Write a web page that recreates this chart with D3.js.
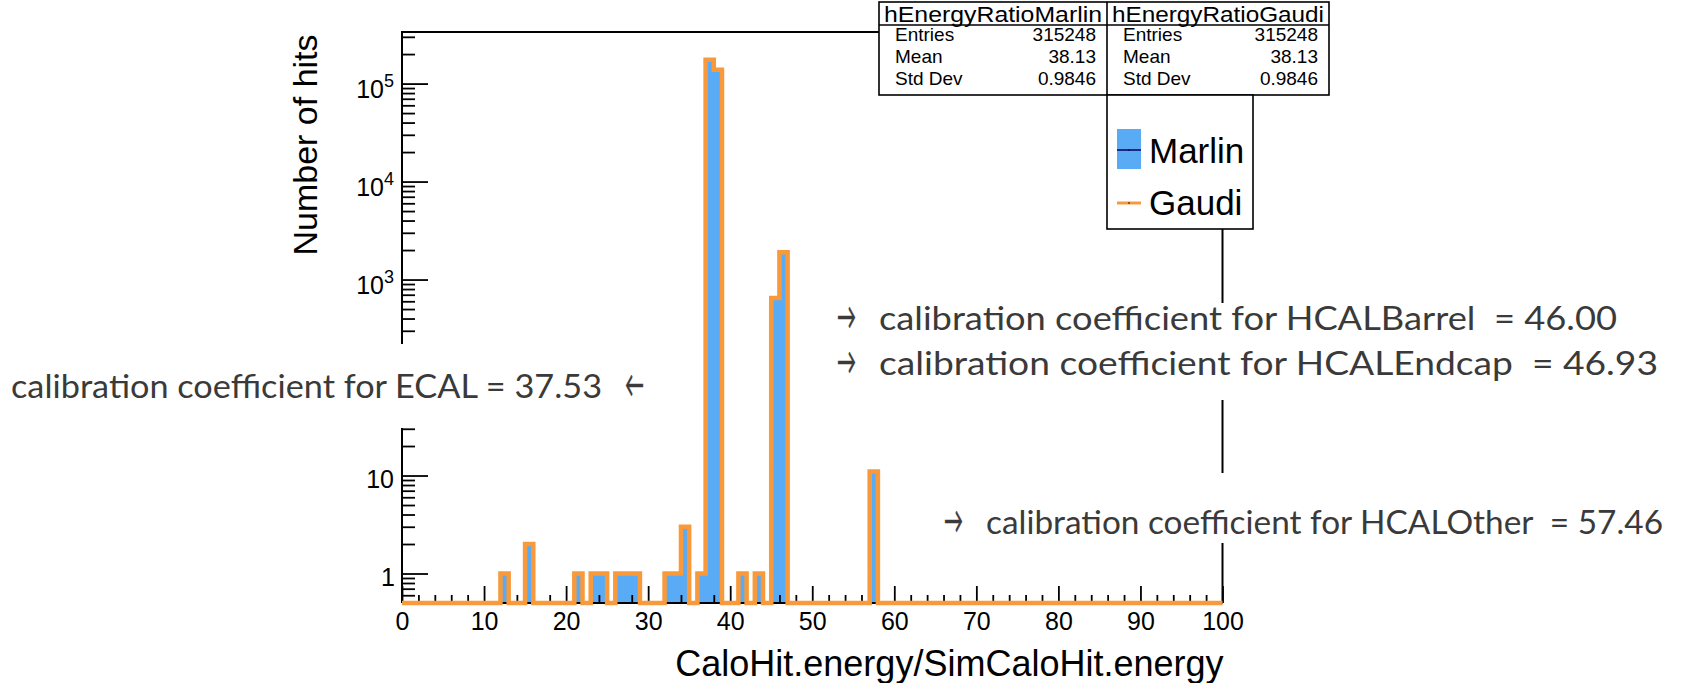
<!DOCTYPE html>
<html>
<head>
<meta charset="utf-8">
<script src="https://cdn.jsdelivr.net/npm/d3@7"></script>
<style>
    body { margin: 0; background: #fff; }
    svg text { font-family: "Liberation Sans", Arial, sans-serif; fill: #000; }
    svg text.note { font-family: Lato, "Noto Sans", sans-serif; fill: #3a3a3a; white-space: pre; }
</style>
</head>
<body>
<svg id="plot" width="1685" height="683"></svg>
<script>
// histogram: 100 bins of width 1 from 0 to 100
const binLow = [
    0, 1, 2, 3, 4, 5, 6, 7, 8, 9,
    10, 11, 12, 13, 14, 15, 16, 17, 18, 19,
    20, 21, 22, 23, 24, 25, 26, 27, 28, 29,
    30, 31, 32, 33, 34, 35, 36, 37, 38, 39,
    40, 41, 42, 43, 44, 45, 46, 47, 48, 49,
    50, 51, 52, 53, 54, 55, 56, 57, 58, 59,
    60, 61, 62, 63, 64, 65, 66, 67, 68, 69,
    70, 71, 72, 73, 74, 75, 76, 77, 78, 79,
    80, 81, 82, 83, 84, 85, 86, 87, 88, 89,
    90, 91, 92, 93, 94, 95, 96, 97, 98, 99
]
const marlinCounts = [
    0, 0, 0, 0, 0, 0, 0, 0, 0, 0,
    0, 0, 1, 0, 0, 2, 0, 0, 0, 0,
    0, 1, 0, 1, 1, 0, 1, 1, 1, 0,
    0, 0, 1, 1, 3, 0, 1, 174620, 138050, 0,
    0, 1, 0, 1, 0, 650, 1900, 0, 0, 0,
    0, 0, 0, 0, 0, 0, 0, 11, 0, 0,
    0, 0, 0, 0, 0, 0, 0, 0, 0, 0,
    0, 0, 0, 0, 0, 0, 0, 0, 0, 0,
    0, 0, 0, 0, 0, 0, 0, 0, 0, 0,
    0, 0, 0, 0, 0, 0, 0, 0, 0, 0
]
// Gaudi gives the identical histogram (same entries, mean, std dev)
const gaudiCounts = [
    0, 0, 0, 0, 0, 0, 0, 0, 0, 0,
    0, 0, 1, 0, 0, 2, 0, 0, 0, 0,
    0, 1, 0, 1, 1, 0, 1, 1, 1, 0,
    0, 0, 1, 1, 3, 0, 1, 174620, 138050, 0,
    0, 1, 0, 1, 0, 650, 1900, 0, 0, 0,
    0, 0, 0, 0, 0, 0, 0, 11, 0, 0,
    0, 0, 0, 0, 0, 0, 0, 0, 0, 0,
    0, 0, 0, 0, 0, 0, 0, 0, 0, 0,
    0, 0, 0, 0, 0, 0, 0, 0, 0, 0,
    0, 0, 0, 0, 0, 0, 0, 0, 0, 0
]

const xTickValues = [0, 10, 20, 30, 40, 50, 60, 70, 80, 90, 100]
const yTickExponents = [0, 1, 2, 3, 4, 5]

const statTitles = ["hEnergyRatioMarlin", "hEnergyRatioGaudi"]
const statLabels = ["Entries", "Mean", "Std Dev"]
const statMarlin = ["315248", "38.13", "0.9846"]
const statGaudi = ["315248", "38.13", "0.9846"]

const legendLabels = ["Marlin", "Gaudi"]

const noteTexts = [
    "calibration coefficient for ECAL = 37.53",
    "calibration coefficient for HCALBarrel  = 46.00",
    "calibration coefficient for HCALEndcap  = 46.93",
    "calibration coefficient for HCALOther  = 57.46"
]

const xTitle = "CaloHit.energy/SimCaloHit.energy"
const yTitle = "Number of hits"

const BLUE = "#5aabf6"
const ORANGE = "#f89a3b"
const DARKBLUE = "#1c2a86"

// frame
const LEFT = 402, RIGHT = 1222.5, TOP = 32, BOTTOM = 603

// white panes behind the annotations, they hide the frame beneath
const notePanes = [
    {x: 0, y: 344, w: 668, h: 84},
    {x: 826, y: 303, w: 850, h: 97},
    {x: 924, y: 473, w: 755, h: 70}
]

const svg = d3.select("#plot")

const xScale = d3.scaleLinear().domain([0, 100]).range([LEFT, RIGHT])
const yScale = d3.scaleLog().domain([0.5, 3.36e5]).range([BOTTOM, TOP])
const yOf = v => yScale(Math.max(v, 0.5))

function histPoints(counts) {
    // one point per bin edge, last edge repeats the last bin
    const pts = binLow.map((b, i) => [b, counts[i]])
    pts.push([binLow[binLow.length - 1] + 1, counts[counts.length - 1]])
    return pts
}

function hiddenByPane(x, y) {
    return notePanes.some(p => x >= p.x && x <= p.x + p.w && y >= p.y && y <= p.y + p.h)
}

// Marlin fill
const area = d3.area()
    .x(d => xScale(d[0]))
    .y0(BOTTOM)
    .y1(d => yOf(d[1]))
    .curve(d3.curveStepAfter)

svg.append("path")
    .datum(histPoints(marlinCounts))
    .attr("d", area)
    .style("fill", BLUE)

// axes
const xAxisG = svg.append("g")
    .attr("transform", `translate(0, ${BOTTOM})`)
    .call(d3.axisBottom(xScale).tickValues(xTickValues).tickSize(-17).tickPadding(9))
xAxisG.select(".domain").remove()
xAxisG.selectAll("line").attr("stroke", "#000").attr("stroke-width", 1.8)
xAxisG.selectAll("text")
    .style("font-family", "Liberation Sans, Arial, sans-serif")
    .style("font-size", "25px")

const xMinor = d3.range(0, 101, 2).filter(v => v % 10 !== 0)
svg.append("g")
    .attr("transform", `translate(0, ${BOTTOM})`)
    .call(d3.axisBottom(xScale).tickValues(xMinor).tickSize(-8).tickFormat(""))
    .call(g => g.select(".domain").remove())
    .selectAll("line").attr("stroke", "#000").attr("stroke-width", 1.8)

const yMajor = yTickExponents.map(e => Math.pow(10, e))
svg.append("g")
    .attr("transform", `translate(${LEFT}, 0)`)
    .call(d3.axisLeft(yScale).tickValues(yMajor).tickSize(-26).tickFormat(""))
    .call(g => g.select(".domain").remove())
    .selectAll("line").attr("stroke", "#000").attr("stroke-width", 1.8)

let yMinor = [0.6, 0.7, 0.8, 0.9]
for (let e = 0; e <= 5; e++) {
    for (let m = 2; m <= 9; m++) {
        const v = m * Math.pow(10, e)
        if (v < 3.36e5) yMinor.push(v)
    }
}
svg.append("g")
    .attr("transform", `translate(${LEFT}, 0)`)
    .call(d3.axisLeft(yScale).tickValues(yMinor).tickSize(-13).tickFormat(""))
    .call(g => g.select(".domain").remove())
    .selectAll("line").attr("stroke", "#000").attr("stroke-width", 1.8)

// y labels with exponents (skip the one covered by the ECAL pane)
yTickExponents.forEach(function (e) {
    const v = Math.pow(10, e)
    if (hiddenByPane(380, yScale(v))) return
    const t = svg.append("text")
        .attr("x", 394)
        .attr("text-anchor", "end")
        .style("font-size", "25px")
    if (e === 0) {
        t.attr("y", yScale(v) + 12).attr("x", 395).text("1")
    } else if (e === 1) {
        t.attr("y", yScale(v) + 12).text("10")
    } else {
        t.attr("y", yScale(v) + 14)
        t.append("tspan").text("10")
        t.append("tspan").attr("dy", -11).style("font-size", "18px").text(e)
    }
})

// frame lines (left axis, bottom axis, top, right)
svg.append("line").attr("x1", LEFT).attr("x2", LEFT).attr("y1", TOP).attr("y2", BOTTOM)
    .attr("stroke", "#000").attr("stroke-width", 2)
svg.append("line").attr("x1", LEFT).attr("x2", RIGHT).attr("y1", BOTTOM).attr("y2", BOTTOM)
    .attr("stroke", "#000").attr("stroke-width", 2)
svg.append("line").attr("x1", LEFT - 1).attr("x2", RIGHT).attr("y1", TOP).attr("y2", TOP)
    .attr("stroke", "#000").attr("stroke-width", 2)
svg.append("line").attr("x1", RIGHT).attr("x2", RIGHT).attr("y1", TOP).attr("y2", BOTTOM)
    .attr("stroke", "#000").attr("stroke-width", 2)

// outlines
const step = d3.line()
    .x(d => xScale(d[0]))
    .y(d => yOf(d[1]))
    .curve(d3.curveStepAfter)

svg.append("path")
    .datum(histPoints(marlinCounts))
    .attr("d", step)
    .style("fill", "none")
    .style("stroke", DARKBLUE)
    .style("stroke-width", 1.5)

svg.append("path")
    .datum(histPoints(gaudiCounts))
    .attr("d", step)
    .style("fill", "none")
    .style("stroke", ORANGE)
    .style("stroke-width", 4.5)
    .style("stroke-linejoin", "miter")

// axis titles
svg.append("text")
    .attr("x", RIGHT + 1)
    .attr("y", 676)
    .attr("text-anchor", "end")
    .style("font-size", "36px")
    .text(xTitle)

svg.append("text")
    .attr("transform", "translate(317, 145) rotate(-90)")
    .attr("text-anchor", "middle")
    .style("font-size", "34px")
    .text(yTitle)

notePanes.forEach(p => {
    svg.append("rect").attr("x", p.x).attr("y", p.y).attr("width", p.w).attr("height", p.h)
        .style("fill", "#fff")
})

const noteLayout = [
    {x: 11, y: 398, w: 591, arrow: "\u2190", ax: 625},
    {x: 879, y: 330, w: 738, arrow: "\u2192", ax: 837},
    {x: 879, y: 375, w: 779, arrow: "\u2192", ax: 837},
    {x: 986, y: 534, w: 677, arrow: "\u2192", ax: 944}
]
noteTexts.forEach(function (txt, i) {
    const L = noteLayout[i]
    svg.append("text")
        .attr("class", "note")
        .attr("x", L.x)
        .attr("y", L.y)
        .attr("textLength", L.w)
        .attr("lengthAdjust", "spacingAndGlyphs")
        .style("font-size", "33px")
        .text(txt)
    svg.append("text")
        .attr("class", "note")
        .attr("x", L.ax)
        .attr("y", L.y - 1)
        .attr("textLength", 19)
        .attr("lengthAdjust", "spacingAndGlyphs")
        .style("font-size", "36px")
        .style("stroke", "#3a3a3a")
        .style("stroke-width", 0.7)
        .text(L.arrow)
})

// stats box
const SX = 879, SY = 2, SW = 450, SH = 93, SMID = 1107
svg.append("rect").attr("x", SX).attr("y", SY).attr("width", SW).attr("height", SH)
    .style("fill", "#fff").style("stroke", "#000").style("stroke-width", 1.6)
svg.append("line").attr("x1", SMID).attr("x2", SMID).attr("y1", SY).attr("y2", SY + SH)
    .attr("stroke", "#000").attr("stroke-width", 1.6)
svg.append("line").attr("x1", SX).attr("x2", SX + SW).attr("y1", 25).attr("y2", 25)
    .attr("stroke", "#000").attr("stroke-width", 1.6)

const columns = [
    {left: SX, right: SMID, values: statMarlin},
    {left: SMID, right: SX + SW, values: statGaudi}
]
columns.forEach(function (c, ci) {
    svg.append("text")
        .attr("x", (c.left + c.right) / 2)
        .attr("y", 21.5)
        .attr("text-anchor", "middle")
        .attr("textLength", c.right - c.left - 10)
        .attr("lengthAdjust", "spacingAndGlyphs")
        .style("font-size", "22px")
        .text(statTitles[ci])
    statLabels.forEach(function (lab, ri) {
        const yy = 40.5 + ri * 22
        svg.append("text")
            .attr("x", c.left + 16)
            .attr("y", yy)
            .style("font-size", "19px")
            .text(lab)
        svg.append("text")
            .attr("x", c.right - 11)
            .attr("y", yy)
            .attr("text-anchor", "end")
            .style("font-size", "19px")
            .text(c.values[ri])
    })
})

// legend
svg.append("rect").attr("x", SMID).attr("y", SY + SH).attr("width", 146).attr("height", 229 - SY - SH)
    .style("fill", "#fff").style("stroke", "#000").style("stroke-width", 1.6)

svg.append("rect").attr("x", 1117).attr("y", 129).attr("width", 24).attr("height", 40)
    .style("fill", BLUE)
svg.append("line").attr("x1", 1117).attr("x2", 1141).attr("y1", 150).attr("y2", 150)
    .attr("stroke", DARKBLUE).attr("stroke-width", 2)
svg.append("line").attr("x1", 1117).attr("x2", 1141).attr("y1", 203).attr("y2", 203)
    .attr("stroke", ORANGE).attr("stroke-width", 3)
svg.append("circle").attr("cx", 1129).attr("cy", 150).attr("r", 0.8).style("fill", "#000")
svg.append("circle").attr("cx", 1129).attr("cy", 203).attr("r", 0.8).style("fill", "#000")

legendLabels.forEach(function (lab, i) {
    svg.append("text")
        .attr("x", 1149)
        .attr("y", 163 + i * 52)
        .style("font-size", "35px")
        .text(lab)
})
</script>
</body>
</html>
